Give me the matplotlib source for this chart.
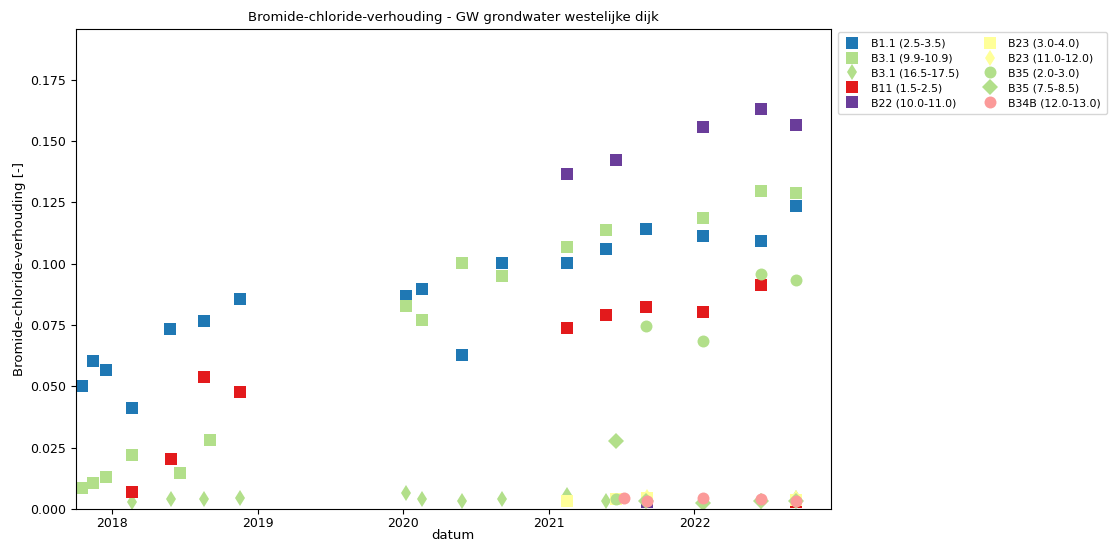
import matplotlib
matplotlib.use("Agg")
import matplotlib.pyplot as plt
import matplotlib.dates as mdates
import pandas as pd

# ---- data ----
b11_dates = ["2017-10-16", "2017-11-13", "2017-12-16", "2018-02-20", "2018-05-25", "2018-08-19",
             "2018-11-18", "2020-01-09", "2020-02-17", "2020-05-27", "2020-09-06", "2021-02-14",
             "2021-05-25", "2021-09-02", "2022-01-22", "2022-06-18", "2022-09-12"]
b11_vals = [0.0502, 0.0604, 0.0567, 0.0413, 0.0735, 0.0767, 0.0855, 0.0869, 0.0897, 0.0628,
            0.1003, 0.1003, 0.1062, 0.1141, 0.1115, 0.1092, 0.1234]

b31a_dates = ["2017-10-16", "2017-11-13", "2017-12-16", "2018-02-20", "2018-06-19", "2018-09-03",
              "2020-01-09", "2020-02-17", "2020-05-27", "2020-09-06", "2021-02-14", "2021-05-25",
              "2022-01-22", "2022-06-18", "2022-09-12"]
b31a_vals = [0.0084, 0.0107, 0.0129, 0.0221, 0.0146, 0.0281, 0.0828, 0.0771, 0.1003, 0.0950,
             0.1070, 0.1138, 0.1187, 0.1298, 0.1287]

b31b_dates = ["2018-02-20", "2018-05-27", "2018-08-20", "2018-11-18", "2020-01-09", "2020-02-17",
              "2020-05-27", "2020-09-06", "2021-02-14", "2021-05-25", "2022-01-22", "2022-06-18",
              "2022-09-12"]
b31b_vals = [0.0030, 0.0040, 0.0040, 0.0044, 0.0064, 0.0041, 0.0033, 0.0040, 0.0057, 0.0034,
             0.0033, 0.0034, 0.0044]

b11r_dates = ["2018-02-20", "2018-05-27", "2018-08-20", "2018-11-18", "2021-02-14", "2021-05-25",
              "2021-09-02", "2022-01-22", "2022-06-18", "2022-09-12"]
b11r_vals = [0.0068, 0.0204, 0.0537, 0.0476, 0.0739, 0.0792, 0.0824, 0.0803, 0.0912, 0.0029]

b22_dates = ["2021-02-14", "2021-06-19", "2021-09-03", "2022-01-22", "2022-06-18", "2022-09-12"]
b22_vals = [0.1366, 0.1423, 0.0029, 0.1558, 0.1631, 0.1566]

b23a_dates = ["2021-02-14", "2021-06-19", "2021-09-03", "2022-09-12"]
b23a_vals = [0.0034, 0.0041, 0.0045, 0.0037]

b23b_dates = ["2021-09-03", "2022-09-12"]
b23b_vals = [0.0047, 0.0045]

b35a_dates = ["2021-06-19", "2021-09-02", "2022-01-22", "2022-06-18", "2022-09-12"]
b35a_vals = [0.0040, 0.0747, 0.0686, 0.0960, 0.0935]

b35b_dates = ["2021-06-19", "2021-09-02", "2022-01-22", "2022-06-18", "2022-09-12"]
b35b_vals = [0.0277, 0.0033, 0.0025, 0.0033, 0.0033]

b34b_dates = ["2021-07-08", "2021-09-03", "2022-01-22", "2022-06-18", "2022-09-12"]
b34b_vals = [0.0045, 0.0033, 0.0046, 0.0040, 0.0033]

series = [
    ("B1.1 (2.5-3.5)", b11_dates, b11_vals, "s", "#1f78b4"),
    ("B3.1 (9.9-10.9)", b31a_dates, b31a_vals, "s", "#b2df8a"),
    ("B3.1 (16.5-17.5)", b31b_dates, b31b_vals, "d", "#b2df8a"),
    ("B11 (1.5-2.5)", b11r_dates, b11r_vals, "s", "#e31a1c"),
    ("B22 (10.0-11.0)", b22_dates, b22_vals, "s", "#6a3d9a"),
    ("B23 (3.0-4.0)", b23a_dates, b23a_vals, "s", "#ffff99"),
    ("B23 (11.0-12.0)", b23b_dates, b23b_vals, "d", "#ffff99"),
    ("B35 (2.0-3.0)", b35a_dates, b35a_vals, "o", "#b2df8a"),
    ("B35 (7.5-8.5)", b35b_dates, b35b_vals, "D", "#b2df8a"),
    ("B34B (12.0-13.0)", b34b_dates, b34b_vals, "o", "#fb9a99"),
]

fig = plt.figure(figsize=(11.15, 5.44), dpi=100)
ax = fig.add_axes([0.068, 0.0643, 0.677, 0.8824])

for label, d, v, m, c in series:
    ms = 8.6 if m in ("s", "o") else 8.0
    ax.plot(pd.to_datetime(d), v, linestyle="none", marker=m, color=c,
            markersize=ms, markeredgewidth=0, label=label)

ax.set_xlim(pd.Timestamp("2017-10-01"), pd.Timestamp("2022-12-09"))
ax.set_ylim(0, 0.1957)
ax.set_yticks([0.0, 0.025, 0.05, 0.075, 0.1, 0.125, 0.15, 0.175])
ax.yaxis.set_major_formatter(matplotlib.ticker.FormatStrFormatter("%.3f"))
ax.xaxis.set_major_locator(mdates.YearLocator())
ax.xaxis.set_major_formatter(mdates.DateFormatter("%Y"))
ax.tick_params(labelsize=9)
ax.tick_params(axis="x", pad=2.5)

ax.set_title("Bromide-chloride-verhouding - GW grondwater westelijke dijk", fontsize=9.5)
ax.set_xlabel("datum", fontsize=9.5, labelpad=-1)
ax.set_ylabel("Bromide-chloride-verhouding [-]", fontsize=9.5, labelpad=3)

ax.legend(loc="upper left", bbox_to_anchor=(1.005, 1.0), ncol=2, fontsize=7.8,
          handlelength=1.55, handletextpad=0.95, columnspacing=2.0,
          labelspacing=0.45, borderpad=0.58, borderaxespad=0.3)

fig.savefig("out.png", dpi=100)
